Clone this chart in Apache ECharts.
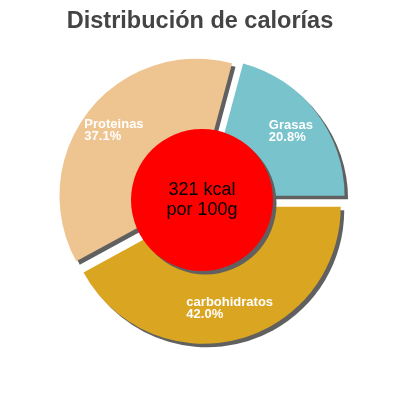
<!DOCTYPE html>
<html><head><meta charset="utf-8">
<script src="https://cdn.jsdelivr.net/npm/echarts@6/dist/echarts.min.js"></script>
<style>html,body{margin:0;padding:0;background:#fff}#c{width:400px;height:400px}</style>
</head><body><div id="c"></div>
<script>
const categories = ['Grasas', 'Proteinas', 'carbohidratos'];
const percents = [20.8, 37.1, 42.0];
const colors = ['#78c3cc', '#eec591', '#daa520'];
const centerLines = ['321 kcal', 'por 100g'];
const titleText = 'Distribución de calorías';

const chart = echarts.init(document.getElementById('c'), null, {renderer: 'canvas'});
const center = ['50.5%', 200];
const shadow = {shadowColor: '#606060', shadowOffsetX: 3.5, shadowOffsetY: 3.5, shadowBlur: 0};
const mkData = (withColor) => categories.map((c, i) => ({
  name: c, value: percents[i], selected: true,
  itemStyle: withColor ? Object.assign({color: colors[i]}, shadow) : {color: 'rgba(0,0,0,0)'}
}));
chart.setOption({
  animation: false,
  title: {text: titleText, left: 'center', top: 5,
    textStyle: {fontFamily: 'Liberation Sans, Arial', fontSize: 23.5, fontWeight: 'bold', color: '#444'}},
  series: [
    {type: 'pie', center: center, radius: [0, 137], startAngle: 0, clockwise: false,
     selectedMode: 'multiple', selectedOffset: 7, silent: true,
     emphasis: {disabled: true}, label: {show: false}, labelLine: {show: false},
     data: mkData(true)},
    {type: 'pie', center: center, radius: [67, 137], startAngle: 0, clockwise: false,
     selectedMode: 'multiple', selectedOffset: 7, silent: true, z: 3,
     emphasis: {disabled: true}, labelLine: {show: false},
     label: {show: true, position: 'inside',
       formatter: p => '{a|' + p.name + '}\n{a|' + p.value.toFixed(1) + '%}',
       rich: {a: {align: 'left', color: '#fff', fontSize: 13, fontWeight: 'bold',
         fontFamily: 'Liberation Sans, Arial', lineHeight: 12, textBorderWidth: 0}}},
     data: mkData(false)},
    {type: 'pie', center: center, radius: [0, 71], silent: true, z: 4,
     emphasis: {disabled: true}, labelLine: {show: false},
     label: {show: true, position: 'center', formatter: centerLines.join('\n'),
       color: '#000', fontSize: 18, fontFamily: 'Liberation Sans, Arial', lineHeight: 20, textBorderWidth: 0},
     data: [{name: 'kcal', value: 1, itemStyle: Object.assign({color: '#ff0000'}, shadow)}]}
  ]
});
</script></body></html>
